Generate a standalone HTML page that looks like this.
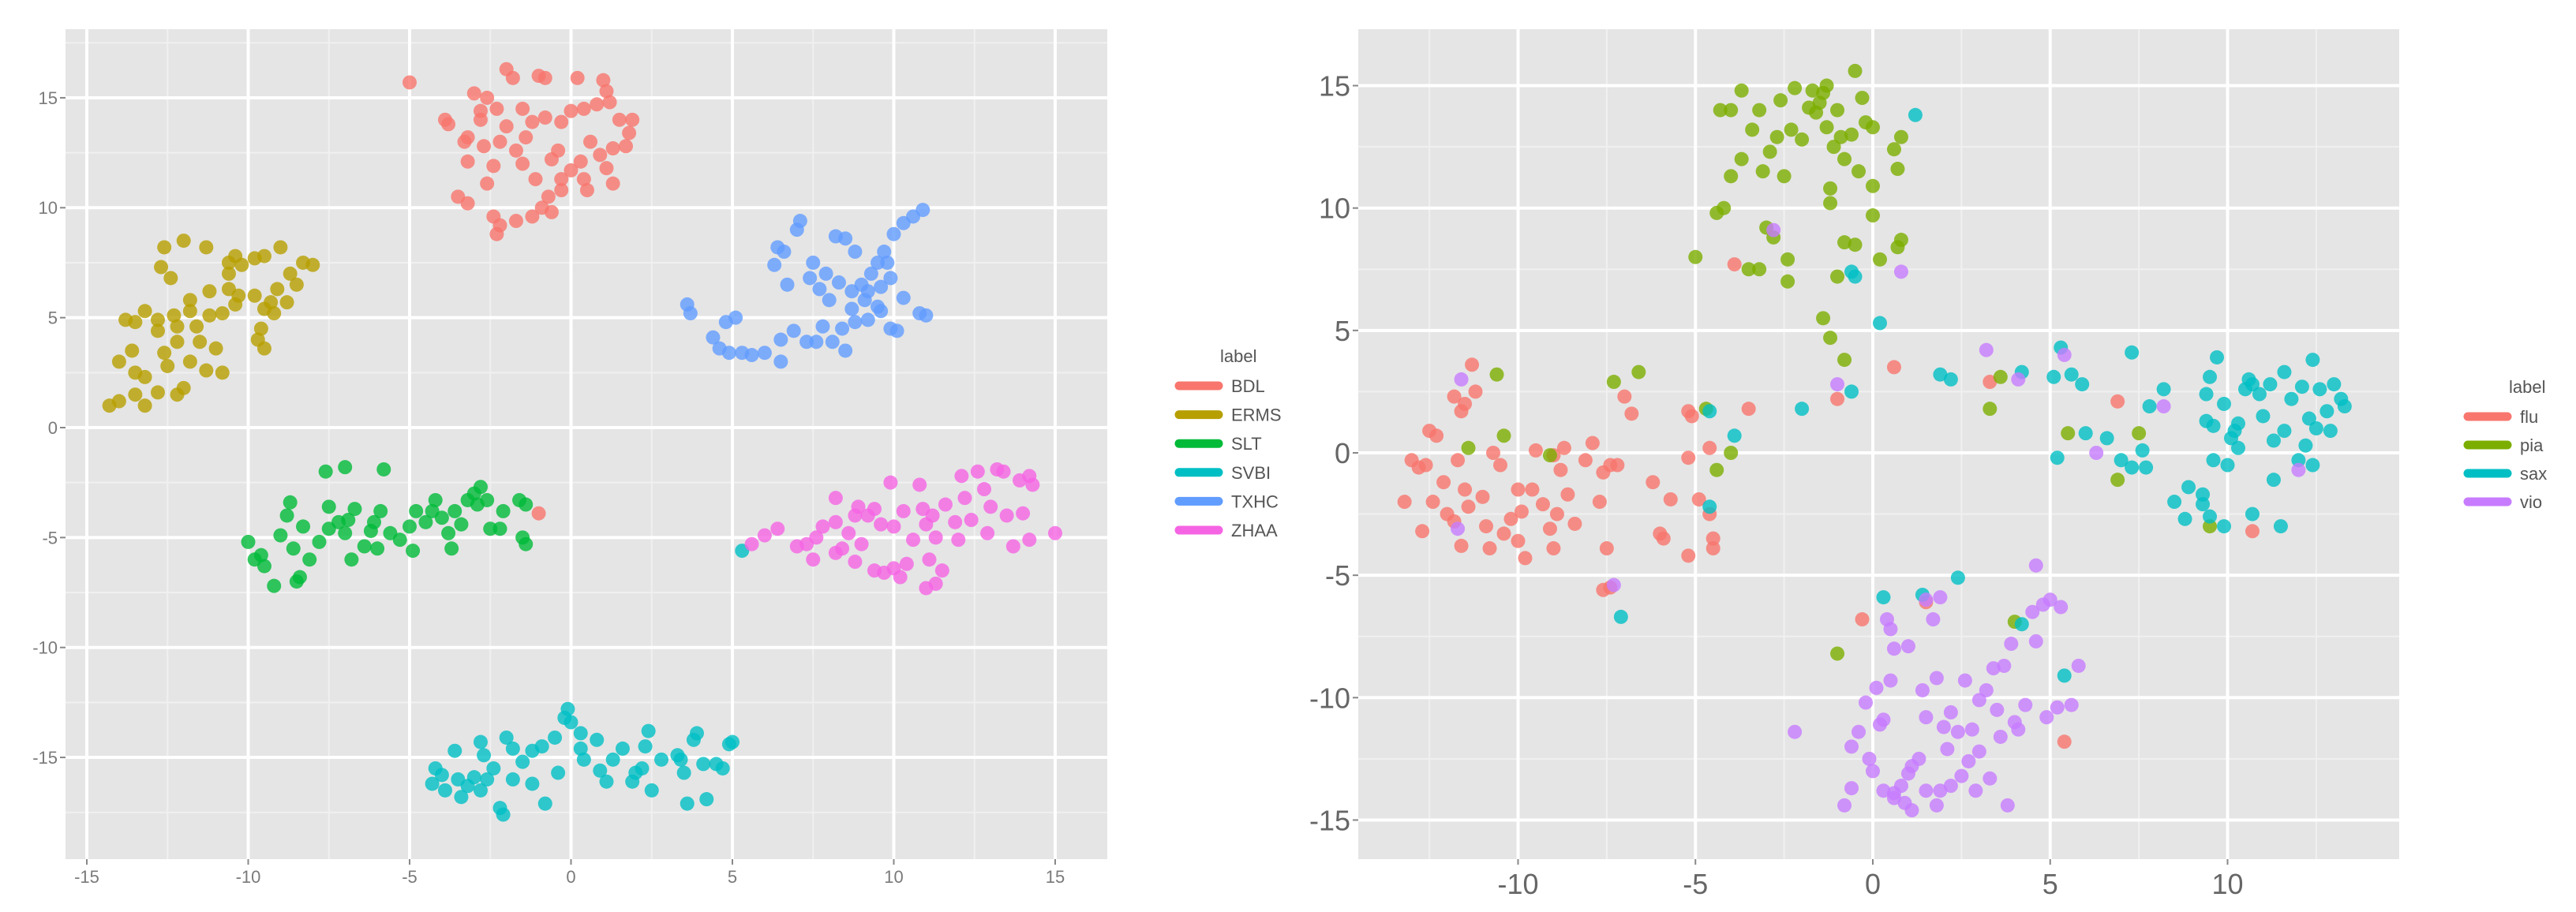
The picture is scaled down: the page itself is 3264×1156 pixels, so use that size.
<!DOCTYPE html>
<html><head><meta charset="utf-8">
<style>
html,body{margin:0;padding:0;background:#fff;}
svg{display:block;font-family:"Liberation Sans",sans-serif;}
</style></head>
<body>
<svg id="chart" width="3264" height="1156" viewBox="0 0 3264 1156"></svg>
<script>
// ---------- LEFT PANEL DATA ----------
const leftLabels = ["BDL","ERMS","SLT","SVBI","TXHC","ZHAA"];
const leftColors = ["#F8766D","#B79F00","#00BA38","#00BFC4","#619CFF","#F564E3"];
const leftXTicks = [-15,-10,-5,0,5,10,15];
const leftYTicks = [-15,-10,-5,0,5,10,15];
const bdl = [[-5,15.7],[-2,16.3],[-1.8,15.9],[-1,16],[-0.8,15.9],[0.2,15.9],[1,15.8],[1.1,15.3],[-3.9,14],[-3.8,13.8],[-3,15.2],[-2.6,15],[-2.8,14.4],[-2.3,14.5],[-1.5,14.5],[-3.2,13.2],[-2.7,12.8],[-2.2,13],[-1.4,13.2],[-1.7,12.6],[-3.2,12.1],[-2.4,11.9],[-1.5,12],[-2.6,11.1],[-1.1,11.3],[-0.6,12.2],[-0.3,13.9],[0,14.4],[0.4,14.5],[0.8,14.7],[1.2,14.8],[1.9,14],[1.8,13.4],[1.3,12.7],[0.9,12.4],[0.3,12.1],[0,11.7],[-0.3,11.3],[0.4,11.3],[1.1,11.8],[0.5,10.8],[-0.7,10.5],[-0.9,10],[-0.6,9.8],[-1.2,9.6],[-1.7,9.4],[-2.2,9.2],[-2.3,8.8],[-3.5,10.5],[-3.2,10.2],[-2.4,9.6],[-0.3,10.8],[1.3,11.1],[1.5,14],[0.6,13],[-0.4,12.6],[-2,13.7],[-1.2,13.9],[-0.8,14.1],[-3.3,13],[-2.8,14],[1.7,12.8],[-1,-3.9]];
const erms = [[-14.3,1],[-14,1.2],[-13.5,1.5],[-13.2,1],[-12.8,1.6],[-12.2,1.5],[-12,1.8],[-13.5,2.5],[-13.2,2.3],[-14,3],[-13.6,3.5],[-12.6,3.4],[-12.2,3.9],[-12.5,2.8],[-11.8,3],[-11.3,2.6],[-10.8,2.5],[-11.5,3.9],[-11,3.6],[-12.2,4.6],[-12.8,4.9],[-13.5,4.8],[-13.8,4.9],[-13.2,5.3],[-12.3,5.1],[-11.6,4.6],[-11.2,5.1],[-10.8,5.2],[-11.8,5.8],[-11.2,6.2],[-10.6,6.3],[-10.3,6],[-10.6,7],[-10.2,7.4],[-10.4,7.8],[-9.8,7.7],[-9.5,7.8],[-9,8.2],[-8.7,7],[-8.3,7.5],[-8,7.4],[-8.5,6.5],[-9.1,6.3],[-9.3,5.7],[-8.8,5.7],[-9.5,5.4],[-9.8,6],[-9.2,5.2],[-9.7,4],[-9.5,3.6],[-12.4,6.8],[-12.7,7.3],[-12.6,8.2],[-12,8.5],[-11.3,8.2],[-10.4,5.6],[-11.8,5.3],[-12.8,4.4],[-9.6,4.5],[-10.6,7.5]];
const slt = [[-10,-5.2],[-9.8,-6],[-9.6,-5.8],[-9.5,-6.3],[-9.2,-7.2],[-8.5,-7],[-8.4,-6.8],[-9,-4.9],[-8.8,-4],[-8.6,-5.5],[-8.3,-4.5],[-8.1,-6],[-7.8,-5.2],[-7.5,-4.6],[-7.2,-4.3],[-7.5,-3.6],[-7,-4.8],[-6.9,-4.2],[-6.7,-3.7],[-6.8,-6],[-6.4,-5.4],[-6.2,-4.7],[-6.1,-4.3],[-6,-5.5],[-5.6,-4.8],[-5.3,-5.1],[-5,-4.5],[-4.8,-3.8],[-4.9,-5.6],[-4.5,-4.3],[-4.2,-3.3],[-4,-4.1],[-3.8,-4.8],[-3.6,-3.8],[-3.4,-4.4],[-3.2,-3.3],[-3,-3],[-2.8,-2.7],[-2.6,-3.3],[-2.5,-4.6],[-2.2,-4.6],[-2.1,-3.8],[-1.6,-3.3],[-1.4,-3.5],[-1.5,-5],[-1.4,-5.3],[-7.6,-2],[-7,-1.8],[-5.8,-1.9],[-5.9,-3.8],[-8.7,-3.4],[-3.7,-5.5],[-4.3,-3.8],[-2.9,-3.5]];
const svbi = [[-4.2,-15.5],[-4,-15.8],[-4.3,-16.2],[-3.9,-16.5],[-3.5,-16],[-3.2,-16.3],[-3,-15.9],[-2.8,-16.5],[-2.6,-16],[-3.4,-16.8],[-2.2,-17.3],[-2.1,-17.6],[-2.7,-14.9],[-2.8,-14.3],[-2.4,-15.5],[-2,-14.1],[-1.8,-14.6],[-1.8,-16],[-1.5,-15.2],[-1.2,-16.2],[-0.8,-17.1],[-0.9,-14.5],[-0.5,-14.1],[-0.4,-15.7],[-0.2,-13.2],[-0.1,-12.8],[0,-13.4],[0.3,-14.6],[0.4,-15.1],[0.3,-13.9],[0.8,-14.2],[0.9,-15.6],[1.3,-15.1],[1.6,-14.6],[1.9,-16.1],[2,-15.7],[2.2,-15.5],[2.4,-13.8],[2.3,-14.5],[2.5,-16.5],[2.8,-15.1],[3.3,-14.9],[3.5,-15.7],[3.6,-17.1],[3.8,-14.2],[3.9,-13.9],[4.1,-15.3],[4.2,-16.9],[4.5,-15.3],[4.7,-15.5],[4.9,-14.4],[5,-14.3],[3.4,-15.1],[1.1,-16.1],[-1.2,-14.7],[-3.6,-14.7],[5.3,-5.6]];
const txhc = [[3.6,5.6],[3.7,5.2],[4.4,4.1],[4.6,3.6],[4.8,4.8],[5.1,5],[4.9,3.4],[5.3,3.4],[5.6,3.3],[6,3.4],[6.5,3],[6.5,4],[6.9,4.4],[7.3,3.9],[7.6,3.9],[7.8,4.6],[8.1,3.9],[8.5,3.5],[8.4,4.5],[8.8,4.8],[9.2,4.9],[9.5,5.5],[9.9,4.5],[10.1,4.4],[10.3,5.9],[10.8,5.2],[11,5.1],[6.3,7.4],[6.4,8.2],[6.6,8],[6.7,6.5],[7,9],[7.1,9.4],[7.4,6.8],[7.7,6.3],[7.9,7],[8,5.8],[8.3,6.6],[8.5,8.6],[8.8,8],[8.7,6.2],[9,6.5],[9.2,6.2],[9.3,7],[9.5,7.5],[9.6,6.4],[9.8,7.5],[9.9,6.8],[9.6,5.3],[9.1,5.8],[9.7,8],[10,8.8],[10.3,9.3],[10.6,9.6],[10.9,9.9],[8.2,8.7],[8.7,5.4],[7.5,7.5]];
const zhaa = [[5.6,-5.3],[6,-4.9],[6.4,-4.6],[7,-5.4],[7.3,-5.3],[7.6,-5],[7.5,-6],[7.8,-4.5],[8.2,-3.2],[8.2,-4.3],[8.4,-5.5],[8.6,-4.8],[8.8,-4],[8.9,-3.6],[9,-5.3],[9.2,-4],[9.4,-3.7],[9.6,-4.4],[8.8,-6.1],[9.4,-6.5],[9.7,-6.6],[10,-6.4],[10.2,-6.8],[10.4,-6.2],[9.9,-2.5],[10,-4.5],[10.3,-3.8],[10.8,-2.6],[10.9,-3.7],[11,-4.4],[11.2,-4],[11.3,-5],[11.1,-6],[11,-7.3],[11.3,-7.1],[11.5,-6.5],[11.6,-3.5],[11.9,-4.3],[12,-5.1],[12.1,-2.2],[12.2,-3.2],[12.4,-4.2],[12.6,-2],[12.8,-2.8],[13,-3.6],[13.2,-1.9],[13.4,-2],[13.5,-4],[13.7,-5.4],[13.9,-2.4],[14,-3.9],[14.2,-2.2],[14.3,-2.6],[14.2,-5.1],[15,-4.8],[12.9,-4.8],[10.6,-5.1],[8.2,-5.7]];

// ---------- RIGHT PANEL DATA ----------
const rightLabels = ["flu","pia","sax","vio"];
const rightColors = ["#F8766D","#7CAE00","#00BFC4","#C77CFF"];
const rightXTicks = [-10,-5,0,5,10];
const rightYTicks = [-15,-10,-5,0,5,10,15];
const flu = [[-13.2,-2],[-13,-0.3],[-12.8,-0.6],[-12.6,-0.5],[-12.4,-2],[-12.7,-3.2],[-12.5,0.9],[-12.3,0.7],[-12.1,-1.2],[-12,-2.5],[-11.8,-2.8],[-11.7,-0.3],[-11.6,-3.8],[-11.5,-1.5],[-11.4,-2.2],[-11.6,1.7],[-11.8,2.3],[-11.5,2],[-11.3,3.6],[-11.2,2.5],[-11,-1.8],[-10.8,-3.9],[-10.9,-3],[-10.7,0],[-10.5,-0.5],[-10.4,-3.3],[-10.2,-2.7],[-10,-1.5],[-10,-3.6],[-9.8,-4.3],[-9.9,-2.4],[-9.6,-1.5],[-9.5,0.1],[-9.3,-2.1],[-9.1,-3.1],[-9,-3.9],[-8.9,-2.5],[-8.8,-0.7],[-8.7,0.2],[-8.6,-1.7],[-8.4,-2.9],[-8.1,-0.3],[-7.9,0.4],[-7.7,-2],[-7.6,-0.8],[-7.5,-3.9],[-7.4,-0.5],[-7.2,-0.5],[-7,2.3],[-6.8,1.6],[-7.6,-5.6],[-7.4,-5.5],[-6.2,-1.2],[-6,-3.3],[-5.9,-3.5],[-5.7,-1.9],[-5.2,1.7],[-5.1,1.5],[-5.2,-0.2],[-5.2,-4.2],[-4.9,-1.9],[-4.6,0.2],[-4.6,-2.5],[-4.5,-3.5],[-4.5,-3.9],[-3.5,1.8],[-3.9,7.7],[-1,2.2],[0.6,3.5],[3.3,2.9],[6.9,2.1],[10.7,-3.2],[5.4,-11.8],[1.5,-6.1],[-0.3,-6.8],[-9,-0.1]];
const pia = [[-5,8],[-4.4,9.8],[-4.2,10],[-4.3,14],[-4,14],[-4,11.3],[-3.7,12],[-3.7,14.8],[-3.4,13.2],[-3.5,7.5],[-3.2,7.5],[-3.2,14],[-3.1,11.5],[-3,9.2],[-2.9,12.3],[-2.8,8.8],[-2.7,12.9],[-2.6,14.4],[-2.5,11.3],[-2.4,7],[-2.4,7.9],[-2.3,13.2],[-2.2,14.9],[-2,12.8],[-1.8,14.1],[-1.7,14.8],[-1.6,13.9],[-1.5,14.3],[-1.4,14.7],[-1.3,13.3],[-1.3,15],[-1.2,10.8],[-1.2,10.2],[-1.1,12.5],[-1,14],[-1,7.2],[-0.9,12.9],[-0.8,12],[-0.8,8.6],[-0.6,13],[-0.5,15.6],[-0.5,8.5],[-0.4,11.5],[-0.3,14.5],[-0.2,13.5],[0,13.3],[0,10.9],[0,9.7],[0.2,7.9],[0.6,12.4],[0.7,11.6],[0.8,8.7],[0.8,12.9],[0.7,8.4],[-1.4,5.5],[-1.2,4.7],[-0.8,3.8],[-11.4,0.2],[-10.6,3.2],[-10.4,0.7],[-7.3,2.9],[-6.6,3.3],[-9.1,-0.1],[-4.7,1.8],[-4.4,-0.7],[-4,0],[3.3,1.8],[3.6,3.1],[5.5,0.8],[7.5,0.8],[6.9,-1.1],[9.5,-3],[-1,-8.2],[4,-6.9]];
const sax = [[8.5,-2],[9.3,-2.1],[8.9,-1.4],[9.3,-1.7],[9.5,-2.6],[9.9,-3],[8.8,-2.7],[9.6,-0.3],[10,-0.5],[10.1,0.6],[10.3,0.2],[9.4,1.3],[9.6,1.1],[9.4,2.4],[9.5,3.1],[9.7,3.9],[9.9,2],[10.2,0.9],[10.3,1.2],[10.5,2.6],[10.6,3],[10.9,2.4],[10.7,2.8],[11,1.5],[11.2,2.8],[11.3,0.5],[11.6,0.9],[11.6,3.3],[11.8,2.2],[12.1,2.7],[12.2,0.3],[12.3,1.4],[12.4,3.8],[12.5,1],[12.6,2.6],[12.8,1.7],[12.9,0.9],[13,2.8],[13.2,2.2],[13.3,1.9],[12,-0.3],[11.3,-1.1],[10.7,-2.5],[11.5,-3],[12.4,-0.5],[8.2,2.6],[7.8,1.9],[7.6,0.1],[7.7,-0.6],[7.3,-0.6],[7,-0.3],[6.6,0.6],[6,0.8],[5.2,-0.2],[5.1,3.1],[5.3,4.3],[5.6,3.2],[5.9,2.8],[7.3,4.1],[4.2,3.3],[2.2,3],[1.9,3.2],[0.2,5.3],[1.2,13.8],[-0.6,7.4],[-0.5,7.2],[-0.6,2.5],[-2,1.8],[-3.9,0.7],[-4.6,1.7],[-4.6,-2.2],[-7.1,-6.7],[0.3,-5.9],[1.4,-5.8],[2.4,-5.1],[4.2,-7],[5.4,-9.1]];
const vio = [[-0.8,-14.4],[-0.6,-13.7],[-0.6,-12],[-0.4,-11.4],[-0.2,-10.2],[-0.1,-12.5],[0,-13],[0.1,-9.6],[0.2,-11.1],[0.3,-10.9],[0.3,-13.8],[0.4,-6.8],[0.5,-7.2],[0.6,-13.9],[0.5,-9.3],[0.6,-8],[0.6,-14.1],[0.8,-13.6],[0.9,-14.3],[1,-13.1],[1.1,-12.8],[1.1,-14.6],[1,-7.9],[1.3,-12.5],[1.4,-9.7],[1.5,-10.8],[1.5,-13.8],[1.7,-6.8],[1.8,-9.2],[1.8,-14.4],[1.9,-13.8],[2,-11.2],[2.1,-12.1],[2.2,-13.6],[2.2,-10.6],[2.4,-11.4],[2.5,-13.2],[2.6,-9.3],[2.7,-12.6],[2.8,-11.3],[2.9,-13.8],[3,-10.1],[3,-12.2],[3.2,-9.7],[3.3,-13.3],[3.4,-8.8],[3.5,-10.5],[3.6,-11.6],[3.7,-8.7],[3.8,-14.4],[3.9,-7.8],[4,-11],[4.1,-11.3],[4.3,-10.3],[4.5,-6.5],[4.6,-7.7],[4.6,-4.6],[4.8,-6.2],[4.9,-10.8],[5,-6],[5.2,-10.4],[5.3,-6.3],[5.6,-10.3],[5.8,-8.7],[-2.2,-11.4],[1.5,-6],[-1,2.8],[-2.8,9.1],[0.8,7.4],[-11.6,3],[-11.7,-3.1],[-7.3,-5.4],[3.2,4.2],[4.1,3],[5.4,4],[6.3,0],[8.2,1.9],[12,-0.7],[1.9,-5.9]];

const NS = "http://www.w3.org/2000/svg";
const svg = document.getElementById("chart");
function mk(tag, attrs, parent){
  const e = document.createElementNS(NS, tag);
  for (const k in attrs) e.setAttribute(k, attrs[k]);
  (parent||svg).appendChild(e);
  return e;
}

function panel(cfg){
  const g = mk("g", {});
  
  
  const bg = mk("rect", {x:cfg.px0, y:cfg.py0, width:cfg.px1-cfg.px0, height:cfg.py1-cfg.py0, fill:"#e5e5e5"}, g);
  
  
  const sx = cfg.sx, sy = cfg.sy;
  // minor grid
  for (let i=0;i<cfg.xMinor.length;i++){
    const v = cfg.xMinor[i];
    const l = mk("line",{x1:sx(v),x2:sx(v),y1:cfg.py0,y2:cfg.py1,stroke:"#f0f0f0","stroke-width":2},g);
    
    
  }
  for (let i=0;i<cfg.yMinor.length;i++){
    const v = cfg.yMinor[i];
    const l = mk("line",{x1:cfg.px0,x2:cfg.px1,y1:sy(v),y2:sy(v),stroke:"#f0f0f0","stroke-width":2},g);
    
    
  }
  // major grid + ticks
  for (let i=0;i<cfg.xTicks.length;i++){
    const v = cfg.xTicks[i];
    const l = mk("line",{x1:sx(v),x2:sx(v),y1:cfg.py0,y2:cfg.py1,stroke:"#ffffff","stroke-width":4},g);
    
    
    mk("line",{x1:sx(v),x2:sx(v),y1:cfg.py1,y2:cfg.py1+7,stroke:"#888","stroke-width":2},g);
    const t = mk("text",{x:sx(v),y:cfg.py1+cfg.tickFont+8,"text-anchor":"middle","font-size":cfg.tickFont,fill:cfg.tickColor},g);
    t.textContent = v;
    
    
  }
  for (let i=0;i<cfg.yTicks.length;i++){
    const v = cfg.yTicks[i];
    const l = mk("line",{x1:cfg.px0,x2:cfg.px1,y1:sy(v),y2:sy(v),stroke:"#ffffff","stroke-width":4},g);
    
    
    mk("line",{x1:cfg.px0-7,x2:cfg.px0,y1:sy(v),y2:sy(v),stroke:"#888","stroke-width":2},g);
    const t = mk("text",{x:cfg.px0-10,y:sy(v)+cfg.tickFont*0.36,"text-anchor":"end","font-size":cfg.tickFont,fill:cfg.tickColor},g);
    t.textContent = v;
    
    
  }
  // points
  for (let s=0;s<cfg.series.length;s++){
    const sg = mk("g",{},g);
    
    
    const pts = cfg.series[s];
    for (let i=0;i<pts.length;i++){
      const c = mk("circle",{cx:sx(pts[i][0]),cy:sy(pts[i][1]),r:9,fill:cfg.colors[s],"fill-opacity":0.8},sg);
      
      
    }
  }
  // legend
  const lg = mk("g",{},g);
  
  
  const lt = mk("text",{x:cfg.legX+52,y:cfg.legY0-30,"font-size":22,fill:"#555"},lg);
  lt.textContent = "label";
  
  
  for (let s=0;s<cfg.labels.length;s++){
    const y = cfg.legY0 + s*cfg.legStep;
    const e = mk("g",{},lg);
    
    
    mk("line",{x1:cfg.legX,x2:cfg.legX+50,y1:y,y2:y,stroke:cfg.colors[s],"stroke-width":11,"stroke-linecap":"round"},e);
    const tx = mk("text",{x:cfg.legX+66,y:y+8,"font-size":22,fill:"#555"},e);
    tx.textContent = cfg.labels[s];
  }
}

panel({
  name:"left-panel", px0:83, px1:1403, py0:37, py1:1089,
  sx:v=>110+(v+15)*40.9, sy:v=>542-v*27.87,
  xTicks:leftXTicks, yTicks:leftYTicks,
  xMinor:[-12.5,-7.5,-2.5,2.5,7.5,12.5], yMinor:[-17.5,-12.5,-7.5,-2.5,2.5,7.5,12.5,17.5],
  tickFont:22, tickColor:"#7a7a7a",
  series:[bdl,erms,slt,svbi,txhc,zhaa], labels:leftLabels, colors:leftColors,
  legX:1494, legY0:489, legStep:36.6
});
panel({
  name:"right-panel", px0:1721, px1:3040, py0:37, py1:1089,
  sx:v=>2373+v*44.95, sy:v=>574-v*31.03,
  xTicks:rightXTicks, yTicks:rightYTicks,
  xMinor:[-12.5,-7.5,-2.5,2.5,7.5,12.5], yMinor:[-12.5,-7.5,-2.5,2.5,7.5,12.5],
  tickFont:36, tickColor:"#666",
  series:[flu,pia,sax,vio], labels:rightLabels, colors:rightColors,
  legX:3127, legY0:528, legStep:36
});
</script>
</body></html>
